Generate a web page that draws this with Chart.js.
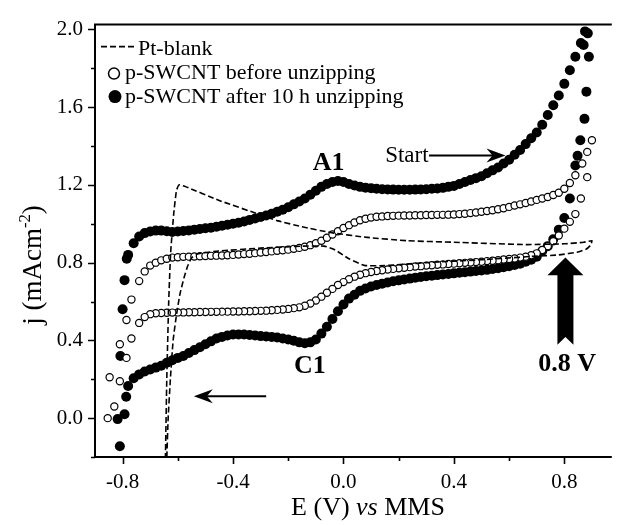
<!DOCTYPE html>
<html>
<head>
<meta charset="utf-8">
<script src="https://cdn.jsdelivr.net/npm/chart.js@4.4.1/dist/chart.umd.min.js"></script>
<style>
html, body { margin: 0; padding: 0; background: #fff; }
#cv { display: block; }
</style>
</head>
<body>
<canvas id="cv" width="617" height="525"></canvas>
<script>
'use strict'

// potential grid (V vs MMS) shared by the dense parts of the scans
const eGrid = [
  -0.78, -0.76, -0.74, -0.72, -0.70, -0.68, -0.66, -0.64, -0.62, -0.60,
  -0.58, -0.56, -0.54, -0.52, -0.50, -0.48, -0.46, -0.44, -0.42, -0.40,
  -0.38, -0.36, -0.34, -0.32, -0.30, -0.28, -0.26, -0.24, -0.22, -0.20,
  -0.18, -0.16, -0.14, -0.12, -0.10, -0.08, -0.06, -0.04, -0.02, 0.00,
  0.02, 0.04, 0.06, 0.08, 0.10, 0.12, 0.14, 0.16, 0.18, 0.20,
  0.22, 0.24, 0.26, 0.28, 0.30, 0.32, 0.34, 0.36, 0.38, 0.40,
  0.42, 0.44, 0.46, 0.48, 0.50, 0.52, 0.54, 0.56, 0.58, 0.60,
  0.62, 0.64, 0.66, 0.68, 0.70, 0.72, 0.74, 0.76, 0.78, 0.80,
  0.82, 0.84, 0.86
];

// p-SWCNT after 10 h unzipping, anodic (forward) scan
const afterFwd = [
  0.84, 0.90, 0.935, 0.952, 0.96, 0.965, 0.965, 0.962, 0.958, 0.96,
  0.963, 0.966, 0.97, 0.973, 0.977, 0.98, 0.985, 0.99, 0.995, 1.0,
  1.005, 1.012, 1.02, 1.027, 1.035, 1.043, 1.052, 1.062, 1.072, 1.085,
  1.10, 1.115, 1.13, 1.15, 1.17, 1.19, 1.205, 1.215, 1.22, 1.215,
  1.205, 1.197, 1.19, 1.186, 1.183, 1.18, 1.178, 1.177, 1.176, 1.175,
  1.175, 1.175, 1.176, 1.177, 1.178, 1.18, 1.182, 1.185, 1.19, 1.195,
  1.205, 1.215, 1.225, 1.235, 1.245, 1.26, 1.275, 1.29, 1.31, 1.33,
  1.355, 1.38, 1.41, 1.44, 1.47, 1.51, 1.56, 1.61, 1.66, 1.72,
  1.79, 1.86, 1.93
];
// p-SWCNT after 10 h unzipping, cathodic (return) scan
const afterRev = [
  0.165, 0.205, 0.225, 0.24, 0.25, 0.26, 0.27, 0.285, 0.298, 0.31,
  0.32, 0.335, 0.35, 0.365, 0.38, 0.395, 0.41, 0.418, 0.425, 0.43,
  0.43, 0.43, 0.428, 0.425, 0.422, 0.42, 0.418, 0.415, 0.41, 0.405,
  0.398, 0.39, 0.385, 0.39, 0.405, 0.435, 0.47, 0.51, 0.55, 0.585,
  0.615, 0.635, 0.655, 0.667, 0.677, 0.685, 0.692, 0.698, 0.704, 0.709,
  0.714, 0.718, 0.722, 0.726, 0.73, 0.733, 0.736, 0.739, 0.742, 0.745,
  0.748, 0.751, 0.754, 0.757, 0.76, 0.763, 0.767, 0.771, 0.776, 0.782,
  0.788, 0.795, 0.805, 0.815, 0.83, 0.86, 0.885, 0.92, 0.97, 1.03,
  1.13, 1.30, null
];
// sparse points at the two switching potentials
const afterTipE = [0.875, 0.885, 0.87, 0.889, 0.88, 0.873, 0.858, 0.848];
const afterTipJ = [1.99, 1.98, 1.92, 1.86, 1.68, 1.54, 1.43, 1.35];
const afterLowE = [-0.787, -0.793, -0.818, -0.81, -0.808, -0.80, -0.793, -0.785];
const afterLowJ = [0.11, 0.02, -0.005, -0.145, 0.32, 0.56, 0.71, 0.82];

// p-SWCNT before unzipping
const beforeFwd = [
  null, null, 0.705, 0.755, 0.785, 0.80, 0.812, 0.82, 0.826, 0.828,
  0.83, 0.831, 0.832, 0.833, 0.834, 0.835, 0.836, 0.837, 0.838, 0.84,
  0.842, 0.844, 0.846, 0.849, 0.852, 0.855, 0.858, 0.861, 0.864, 0.867,
  0.871, 0.876, 0.882, 0.89, 0.90, 0.913, 0.928, 0.945, 0.962, 0.978,
  0.993, 1.007, 1.018, 1.026, 1.032, 1.036, 1.038, 1.04, 1.041, 1.042,
  1.043, 1.043, 1.044, 1.044, 1.045, 1.045, 1.046, 1.046, 1.047, 1.048,
  1.05, 1.052, 1.055, 1.058, 1.062, 1.066, 1.07, 1.075, 1.08, 1.087,
  1.094, 1.10, 1.107, 1.115, 1.123, 1.13, 1.138, 1.148, 1.16, 1.18,
  1.21, 1.25, null
];
const beforeRev = [
  null, null, 0.49, 0.52, 0.535, 0.54, 0.541, 0.542, 0.543, 0.544,
  0.544, 0.545, 0.545, 0.546, 0.546, 0.547, 0.547, 0.548, 0.548, 0.549,
  0.549, 0.55, 0.55, 0.551, 0.552, 0.553, 0.555, 0.557, 0.559, 0.562,
  0.566, 0.57, 0.578, 0.59, 0.605, 0.625, 0.645, 0.665, 0.685, 0.70,
  0.715, 0.728, 0.738, 0.746, 0.752, 0.757, 0.761, 0.765, 0.768, 0.771,
  0.774, 0.777, 0.78, 0.782, 0.785, 0.787, 0.789, 0.791, 0.793, 0.795,
  0.797, 0.799, 0.801, 0.803, 0.805, 0.808, 0.81, 0.813, 0.816, 0.819,
  0.822, 0.826, 0.831, 0.838, 0.848, 0.865, 0.885, 0.91, 0.94, 0.975,
  1.01, 1.05, 1.13
];
const beforeTipE = [0.883, 0.865, 0.883, 0.90];
const beforeTipJ = [1.24, 1.31, 1.37, 1.43];
const beforeLowE = [-0.768, -0.786, -0.81, -0.847, -0.83, -0.854, -0.81, -0.786, -0.768];
const beforeLowJ = [0.41, 0.31, 0.19, 0.21, 0.06, 0.0, 0.38, 0.505, 0.61];

// Pt-blank loop
const ptE = [
  -0.645, -0.64, -0.633, -0.626, -0.615, -0.605, -0.596, -0.57, -0.45, -0.30,
  -0.237, -0.15, -0.047, 0.086, 0.23, 0.40, 0.66, 0.80, 0.87, 0.90,
  0.895, 0.88, 0.85, 0.78, 0.68, 0.50, 0.30, 0.15, 0.075, 0.02,
  -0.03, -0.07, -0.15, -0.30, -0.45, -0.53, -0.55, -0.565, -0.578, -0.592,
  -0.605, -0.617, -0.627, -0.635, -0.64
];
const ptJ = [
  -0.21, 0.2, 0.6, 0.85, 1.05, 1.17, 1.2, 1.19, 1.12, 1.046,
  1.015, 0.985, 0.955, 0.93, 0.913, 0.905, 0.893, 0.897, 0.905, 0.913,
  0.89, 0.87, 0.855, 0.84, 0.832, 0.815, 0.80, 0.785, 0.786, 0.82,
  0.865, 0.885, 0.885, 0.875, 0.86, 0.845, 0.825, 0.78, 0.72, 0.64,
  0.53, 0.40, 0.2, 0.0, -0.21
];

const seriesNames = ['Pt-blank', 'p-SWCNT before unzipping', 'p-SWCNT after 10 h unzipping'];
const xTicks = [-0.8, -0.4, 0.0, 0.4, 0.8];
const yTicks = [0.0, 0.4, 0.8, 1.2, 1.6, 2.0];

const serif = '"Liberation Serif", "Times New Roman", serif';

//==================================================================================================

function gridBranch(jList, reverse){
    const pts = [];
    eGrid.forEach((e, i) => {
        if (jList[i] !== null) pts.push({ x: e, y: jList[i] });
    });
    return reverse ? pts.reverse() : pts;
}

function pairs(eList, jList){
    return eList.map((e, i) => ({ x: e, y: jList[i] }));
}

function isMajor(v, list){
    return list.some(t => Math.abs(t - v) < 1e-6);
}

// text with superscript / italic pieces
function drawRich(ctx, parts, size, x, y, align){
    const widths = parts.map(p => {
        ctx.font = (p.italic ? 'italic ' : '') + (p.sup ? size * 0.62 : size) + 'px ' + serif;
        return ctx.measureText(p.t).width;
    });
    const total = widths.reduce((a, b) => a + b, 0);
    let cx = align === 'center' ? x - total / 2 : x;
    parts.forEach((p, i) => {
        ctx.font = (p.italic ? 'italic ' : '') + (p.sup ? size * 0.62 : size) + 'px ' + serif;
        ctx.fillText(p.t, cx, p.sup ? y - size * 0.4 : y);
        cx += widths[i];
    });
}

function arrowHead(ctx, tx, ty, dir){
    // dir = 1 points right, -1 points left
    ctx.beginPath();
    ctx.moveTo(tx, ty);
    ctx.lineTo(tx - dir * 19, ty - 7);
    ctx.lineTo(tx - dir * 13, ty);
    ctx.lineTo(tx - dir * 19, ty + 7);
    ctx.closePath();
    ctx.fill();
}

//축, 눈금
const axisPlugin = {
    id: 'axisPlugin',
    afterDraw(chart){
        const { ctx, chartArea: a, scales: { x, y } } = chart;
        ctx.save();
        ctx.strokeStyle = '#000';
        ctx.lineWidth = 2;
        ctx.beginPath();
        ctx.moveTo(a.left, a.top);
        ctx.lineTo(a.right, a.top);
        ctx.moveTo(a.left, a.top - 1);
        ctx.lineTo(a.left, a.bottom);
        ctx.lineTo(a.right, a.bottom);
        ctx.stroke();

        ctx.lineWidth = 1.6;
        ctx.beginPath();
        x.ticks.forEach(t => {
            const px = Math.round(x.getPixelForValue(t.value)) + 0.5;
            const len = isMajor(t.value, xTicks) ? 7 : 4;
            ctx.moveTo(px, a.bottom);
            ctx.lineTo(px, a.bottom + len);
        });
        y.ticks.forEach(t => {
            const py = Math.round(y.getPixelForValue(t.value)) + 0.5;
            const len = isMajor(t.value, yTicks) ? 7 : 4;
            ctx.moveTo(a.left, py);
            ctx.lineTo(a.left - len, py);
        });
        ctx.stroke();

        // axis titles
        ctx.fillStyle = '#000';
        ctx.textBaseline = 'alphabetic';
        drawRich(ctx, [{ t: 'E (V) ' }, { t: 'vs', italic: true }, { t: ' MMS' }], 26, 368, 515, 'center');
        ctx.save();
        ctx.translate(41, 265);
        ctx.rotate(-Math.PI / 2);
        drawRich(ctx, [{ t: 'j (mAcm' }, { t: '-2', sup: true }, { t: ')' }], 27, 0, 0, 'center');
        ctx.restore();

        // legend
        const lx = a.left;
        const ly = a.top;
        ctx.lineWidth = 1.6;
        ctx.setLineDash([6, 3]);
        ctx.beginPath();
        ctx.moveTo(lx + 6, ly + 22);
        ctx.lineTo(lx + 41, ly + 22);
        ctx.stroke();
        ctx.setLineDash([]);
        ctx.beginPath();
        ctx.arc(lx + 19, ly + 49, 5.5, 0, Math.PI * 2);
        ctx.fillStyle = '#fff';
        ctx.fill();
        ctx.lineWidth = 1.5;
        ctx.stroke();
        ctx.beginPath();
        ctx.arc(lx + 20, ly + 72, 6.5, 0, Math.PI * 2);
        ctx.fillStyle = '#000';
        ctx.fill();
        ctx.font = '22px ' + serif;
        ctx.textAlign = 'left';
        ctx.fillText(seriesNames[0], lx + 43, ly + 30);
        ctx.fillText(seriesNames[1], lx + 30, ly + 54);
        ctx.fillText(seriesNames[2], lx + 30, ly + 78);
        ctx.restore();
    }
};

// 주석: 피크 이름, 화살표
const notePlugin = {
    id: 'notePlugin',
    afterDatasetsDraw(chart){
        const { ctx, scales: { x, y } } = chart;
        const X = v => x.getPixelForValue(v);
        const Y = v => y.getPixelForValue(v);
        ctx.save();
        ctx.fillStyle = '#000';
        ctx.strokeStyle = '#000';
        ctx.textAlign = 'center';
        ctx.textBaseline = 'alphabetic';
        ctx.font = 'bold 26px ' + serif;
        ctx.fillText('A1', X(-0.054), Y(1.276));
        ctx.fillText('C1', X(-0.122), Y(0.23));
        ctx.fillText('0.8 V', X(0.81), Y(0.24));

        ctx.font = '23px ' + serif;
        ctx.textAlign = 'left';
        ctx.fillText('Start', X(0.151), Y(1.32));

        // Start arrow
        ctx.lineWidth = 2;
        ctx.beginPath();
        ctx.moveTo(X(0.31), Y(1.352));
        ctx.lineTo(X(0.57), Y(1.352));
        ctx.stroke();
        arrowHead(ctx, X(0.587), Y(1.352), 1);

        // scan direction arrow
        ctx.beginPath();
        ctx.moveTo(X(-0.28), Y(0.112));
        ctx.lineTo(X(-0.52), Y(0.112));
        ctx.stroke();
        arrowHead(ctx, X(-0.542), Y(0.112), -1);

        // thick arrow at 0.8 V
        const cx = X(0.804);
        ctx.beginPath();
        ctx.moveTo(cx, Y(0.827));
        ctx.lineTo(cx + 18, Y(0.735));
        ctx.lineTo(cx + 8, Y(0.735));
        ctx.lineTo(cx + 8, Y(0.378));
        ctx.lineTo(cx, Y(0.418));
        ctx.lineTo(cx - 8, Y(0.378));
        ctx.lineTo(cx - 8, Y(0.735));
        ctx.lineTo(cx - 18, Y(0.735));
        ctx.closePath();
        ctx.fill();
        ctx.restore();
    }
};

const afterData = gridBranch(afterFwd, false)
    .concat(pairs(afterTipE, afterTipJ))
    .concat(gridBranch(afterRev, true))
    .concat(pairs(afterLowE, afterLowJ));

const beforeData = gridBranch(beforeFwd, false)
    .concat(pairs(beforeTipE, beforeTipJ))
    .concat(gridBranch(beforeRev, true))
    .concat(pairs(beforeLowE, beforeLowJ));

const tickFont = { family: serif, size: 21 };

new Chart(document.getElementById('cv'), {
    type: 'scatter',
    data: {
        datasets: [
            {
                label: seriesNames[0],
                data: pairs(ptE, ptJ),
                showLine: true,
                borderColor: '#000',
                borderWidth: 1.6,
                borderDash: [6, 3],
                pointRadius: 0,
                tension: 0.15,
                order: 0
            },
            {
                label: seriesNames[1],
                data: beforeData,
                showLine: false,
                pointRadius: 3.6,
                pointBackgroundColor: '#fff',
                pointBorderColor: '#000',
                pointBorderWidth: 1.2,
                order: 1
            },
            {
                label: seriesNames[2],
                data: afterData,
                showLine: false,
                pointRadius: 5,
                pointBackgroundColor: '#000',
                pointBorderWidth: 0,
                order: 2
            }
        ]
    },
    options: {
        responsive: false,
        animation: false,
        layout: { padding: { top: 20, right: 0, bottom: 0, left: 0 } },
        plugins: { legend: { display: false }, tooltip: { enabled: false } },
        scales: {
            x: {
                type: 'linear',
                min: -0.9,
                max: 0.972,
                afterFit: s => { s.height = 68; },
                grid: { display: false, drawTicks: false },
                border: { display: false },
                ticks: {
                    stepSize: 0.2,
                    includeBounds: false,
                    autoSkip: false,
                    maxRotation: 0,
                    padding: 13,
                    color: '#000',
                    font: tickFont,
                    callback: v => isMajor(v, xTicks) ? (Math.abs(v) < 1e-6 ? '0.0' : v.toFixed(1)) : ''
                }
            },
            y: {
                type: 'linear',
                min: -0.2,
                max: 2.025,
                afterFit: s => { s.width = 95; },
                grid: { display: false, drawTicks: false },
                border: { display: false },
                ticks: {
                    stepSize: 0.2,
                    includeBounds: false,
                    autoSkip: false,
                    padding: 12,
                    color: '#000',
                    font: tickFont,
                    callback: v => isMajor(v, yTicks) ? (Math.abs(v) < 1e-6 ? '0.0' : v.toFixed(1)) : ''
                }
            }
        }
    },
    plugins: [axisPlugin, notePlugin]
});
</script>
</body>
</html>
